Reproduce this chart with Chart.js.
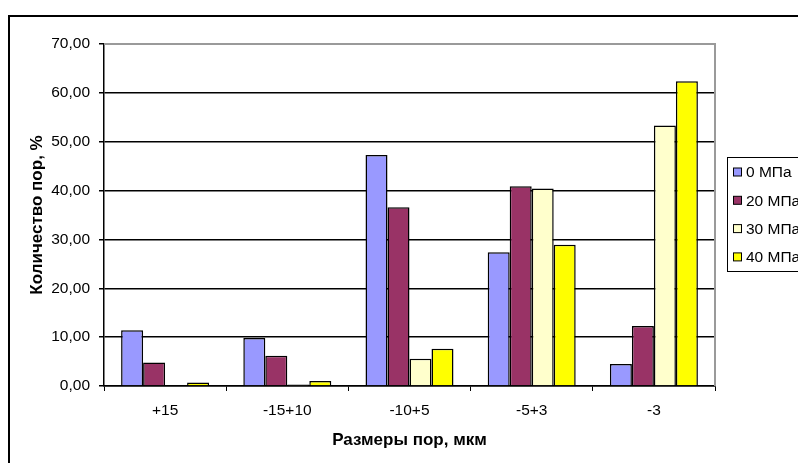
<!DOCTYPE html>
<html>
<head>
<meta charset="utf-8">
<script src="https://cdn.jsdelivr.net/npm/chart.js@4"></script>
<style>
    html, body { margin: 0; padding: 0; background: #fff; overflow: hidden; }
    canvas { display: block; }
</style>
</head>
<body>
<canvas id="poreChart" width="798" height="463"></canvas>
<script>

// Pore size classes and share of pores (%) for each pressing pressure
const sizeClasses = ["+15", "-15+10", "-10+5", "-5+3", "-3"];
const seriesNames = ["0 МПа", "20 МПа", "30 МПа", "40 МПа"];
const p0  = [11.4, 9.8, 47.3, 27.4, 4.5];
const p20 = [4.8, 6.2, 36.6, 40.9, 12.3];
const p30 = [0.0, 0.3, 5.6, 40.4, 53.3];
const p40 = [0.7, 1.0, 7.6, 28.9, 62.4];
const seriesColors = ["#9999FF", "#993366", "#FFFFCC", "#FFFF00"];
const yTicks = [0, 10, 20, 30, 40, 50, 60, 70];

const FONT = "'Liberation Sans', Arial, sans-serif";

// Outer frame of the chart object plus the grey plot-area border
const framePlugin = {
    id: "frame",
    beforeDraw(chart){
        const ctx = chart.ctx;
        ctx.save();
        ctx.fillStyle = "#fff";
        ctx.fillRect(0, 0, chart.width, chart.height);
        ctx.strokeStyle = "#000";
        ctx.lineWidth = 2;
        ctx.beginPath();
        ctx.moveTo(9, chart.height);
        ctx.lineTo(9, 16);
        ctx.lineTo(chart.width, 16);
        ctx.stroke();
        ctx.restore();
    },
    afterDatasetsDraw(chart){
        const a = chart.chartArea;
        const ctx = chart.ctx;
        ctx.save();
        ctx.strokeStyle = "#9a9a9a";
        ctx.lineWidth = 2;
        ctx.beginPath();
        ctx.moveTo(a.left, a.top);
        ctx.lineTo(a.right, a.top);
        ctx.lineTo(a.right, a.bottom);
        ctx.stroke();
        ctx.restore();
    }
};

// Boxed legend on the right, running past the canvas edge
const boxLegend = {
    id: "boxLegend",
    afterDraw(chart){
        const ctx = chart.ctx;
        const x = 727, y = 157, h = 114;
        ctx.save();
        ctx.fillStyle = "#fff";
        ctx.fillRect(x, y, chart.width - x + 10, h);
        ctx.strokeStyle = "#000";
        ctx.lineWidth = 1;
        ctx.strokeRect(x + 0.5, y + 0.5, chart.width, h);
        ctx.font = "15.5px " + FONT;
        ctx.textBaseline = "middle";
        chart.data.datasets.forEach((ds, i) => {
            const cy = 172 + i * 28.3;
            ctx.fillStyle = ds.backgroundColor;
            ctx.fillRect(733.5, cy - 4, 8, 8);
            ctx.strokeStyle = "#000";
            ctx.strokeRect(733.5, cy - 4, 8, 8);
            ctx.fillStyle = "#000";
            ctx.fillText(ds.label, 746, cy + 1);
        });
        ctx.restore();
    }
};

const allSeries = [p0, p20, p30, p40];

new Chart(document.getElementById("poreChart"), {
    type: "bar",
    data: {
        labels: sizeClasses,
        datasets: allSeries.map((values, i) => ({
            label: seriesNames[i],
            data: values,
            backgroundColor: seriesColors[i],
            borderColor: "#000",
            borderWidth: 1.5,
            borderSkipped: "bottom",
            categoryPercentage: 0.72,
            barPercentage: 1.0
        }))
    },
    options: {
        responsive: false,
        animation: false,
        devicePixelRatio: 1,
        layout: {
            padding: { left: 0, top: 44, right: 83, bottom: 0 }
        },
        plugins: {
            legend: { display: false },
            tooltip: { enabled: false }
        },
        scales: {
            x: {
                afterFit(scale){ scale.height = 77; },
                ticks: {
                    color: "#000",
                    font: { family: FONT, size: 15.5 },
                    padding: 10,
                    maxRotation: 0
                },
                grid: {
                    drawOnChartArea: false,
                    color: "#000",
                    tickLength: 5,
                    offset: true
                },
                border: { color: "#000", width: 1.5 },
                title: {
                    display: true,
                    text: "Размеры пор, мкм",
                    color: "#000",
                    font: { family: FONT, size: 17, weight: "bold" },
                    padding: { top: 0, bottom: 12 }
                }
            },
            y: {
                min: 0,
                max: 70,
                afterFit(scale){ scale.width = 104; },
                afterBuildTicks(scale){
                    scale.ticks = yTicks.map(v => ({ value: v }));
                },
                ticks: {
                    color: "#000",
                    font: { family: FONT, size: 15.5 },
                    padding: 9,
                    callback: v => v.toFixed(2).replace(".", ",")
                },
                grid: {
                    color: "#000",
                    lineWidth: 1.5,
                    tickLength: 5
                },
                border: { color: "#000", width: 1.5 },
                title: {
                    display: true,
                    text: "Количество пор, %",
                    color: "#000",
                    font: { family: FONT, size: 17, weight: "bold" },
                    padding: { top: 27, bottom: 0 }
                }
            }
        }
    },
    plugins: [framePlugin, boxLegend]
});

</script>
</body>
</html>
